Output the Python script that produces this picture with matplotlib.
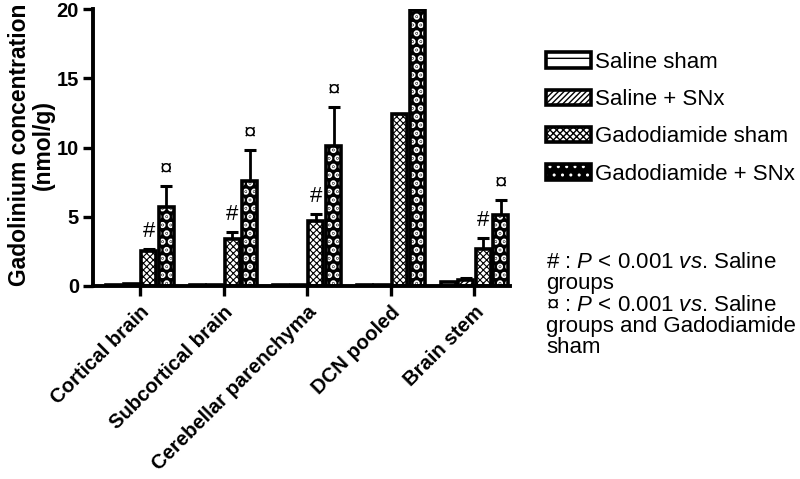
import matplotlib
matplotlib.use("Agg")
import matplotlib.pyplot as plt
import numpy as np
from matplotlib.patches import Patch

plt.rcParams['font.family'] = ['Liberation Sans', 'DejaVu Sans']
plt.rcParams['mathtext.fontset'] = 'custom'
plt.rcParams['mathtext.rm'] = 'Liberation Sans'
plt.rcParams['mathtext.it'] = 'Liberation Sans:italic'
plt.rcParams['hatch.linewidth'] = 1.0

# data (nmol/g)
regions = ["Cortical brain", "Subcortical brain", "Cerebellar parenchyma", "DCN pooled", "Brain stem"]
groups = ["Saline sham", "Saline + SNx", "Gadodiamide sham", "Gadodiamide + SNx"]
saline_sham = [0.10, 0.05, 0.05, 0.10, 0.30]
saline_snx = [0.15, 0.05, 0.10, 0.10, 0.40]
gado_sham = [2.5, 3.4, 4.7, 12.4, 2.7]
gado_snx = [5.7, 7.6, 10.1, 19.9, 5.1]
saline_sham_err = [0.0, 0.0, 0.0, 0.0, 0.0]
saline_snx_err = [0.0, 0.0, 0.0, 0.0, 0.15]
gado_sham_err = [0.2, 0.5, 0.5, 0.0, 0.8]
gado_snx_err = [1.5, 2.2, 2.8, 0.0, 1.1]
sham_marks = ["#", "#", "#", "", "#"]
snx_marks = ["\u00a4", "\u00a4", "\u00a4", "", "\u00a4"]

values = [saline_sham, saline_snx, gado_sham, gado_snx]
errors = [saline_sham_err, saline_snx_err, gado_sham_err, gado_snx_err]
# face, hatch colour, hatch pattern, hatch width
styles = [("white", "black", "-", 1.0),
          ("white", "black", "//////", 1.0),
          ("white", "black", "xxxxx", 0.8),
          ("black", "white", "..", 3.2)]


def hatched(p, lw):
    if hasattr(p, "set_hatch_linewidth"):
        p.set_hatch_linewidth(lw)


fig = plt.figure(figsize=(8.0, 4.79), dpi=100)
ax = fig.add_axes([0.116, 0.403, 0.522, 0.578])

x = np.arange(len(regions))
w = 0.18
step = 0.21
for i, (vals, errs) in enumerate(zip(values, errors)):
    face, hcol, hatch, hlw = styles[i]
    pos = x + (i - 1.5) * step
    e = np.array(errs)
    ax.errorbar(pos, vals, yerr=[np.zeros_like(e), e], fmt="none", ecolor="black",
                elinewidth=2.0, capsize=4, capthick=2.2, zorder=1)
    with plt.rc_context({"hatch.linewidth": hlw}):
        bars = ax.bar(pos, vals, width=w, color=face, edgecolor=hcol, hatch=hatch,
                      linewidth=0, zorder=2)
    for b in bars:
        hatched(b, hlw)
    ax.bar(pos, vals, width=w, facecolor="none", edgecolor="black",
           linewidth=2.6, zorder=3)

# significance marks
for j in range(len(regions)):
    for vals, errs, marks, k in [(gado_sham, gado_sham_err, sham_marks, 2),
                                 (gado_snx, gado_snx_err, snx_marks, 3)]:
        if marks[j]:
            ax.annotate(marks[j], (x[j] + (k - 1.5) * step, vals[j] + errs[j]),
                        xytext=(0, 5), textcoords="offset points",
                        ha="center", va="bottom", fontsize=16)

ax.set_xlim(-0.563, 4.43)
ax.set_ylim(0, 20)
ax.set_yticks([0, 5, 10, 15, 20])
ax.set_xticks(x)
ax.set_xticklabels(regions, rotation=45, ha="right", va="top",
                   rotation_mode="anchor", fontsize=14.6, fontweight="bold")
for lab in ax.get_yticklabels():
    lab.set_fontsize(14.5)
    lab.set_fontweight("bold")
ax.tick_params(axis="both", width=2.4, length=7, direction="out")
ax.tick_params(axis="y", pad=3)
ax.tick_params(axis="x", pad=5)
for s in ["top", "right"]:
    ax.spines[s].set_visible(False)
for s in ["left", "bottom"]:
    ax.spines[s].set_linewidth(2.8)
ax.set_ylabel("Gadolinium concentration\n(nmol/g)", fontsize=16.5, fontweight="bold",
              linespacing=1.05)
ax.yaxis.set_label_coords(-0.09, 0.51)

handles = []
for g, (face, hcol, hatch, hlw) in zip(groups, styles):
    with plt.rc_context({"hatch.linewidth": hlw}):
        p = Patch(facecolor=face, edgecolor=hcol, hatch=hatch, linewidth=0, label=g)
    hatched(p, hlw)
    handles.append(p)
outl = [Patch(facecolor="none", edgecolor="black", linewidth=2.6) for _ in groups]
leg = fig.legend([(h, o) for h, o in zip(handles, outl)], groups,
                 loc="upper left", bbox_to_anchor=(0.672, 0.91), frameon=False,
                 fontsize=16, handlelength=2.0, handleheight=0.7,
                 handletextpad=0.2, labelspacing=0.73, borderaxespad=0)

note = ("# : $\\mathit{P}$ < 0.001 $\\mathit{vs}$. Saline\ngroups\n"
        "\u00a4 : $\\mathit{P}$ < 0.001 $\\mathit{vs}$. Saline\ngroups and Gadodiamide\nsham")
fig.text(0.683, 0.474, note, fontsize=16, va="top", ha="left", linespacing=1.02)

fig.savefig("out.png", dpi=100)
